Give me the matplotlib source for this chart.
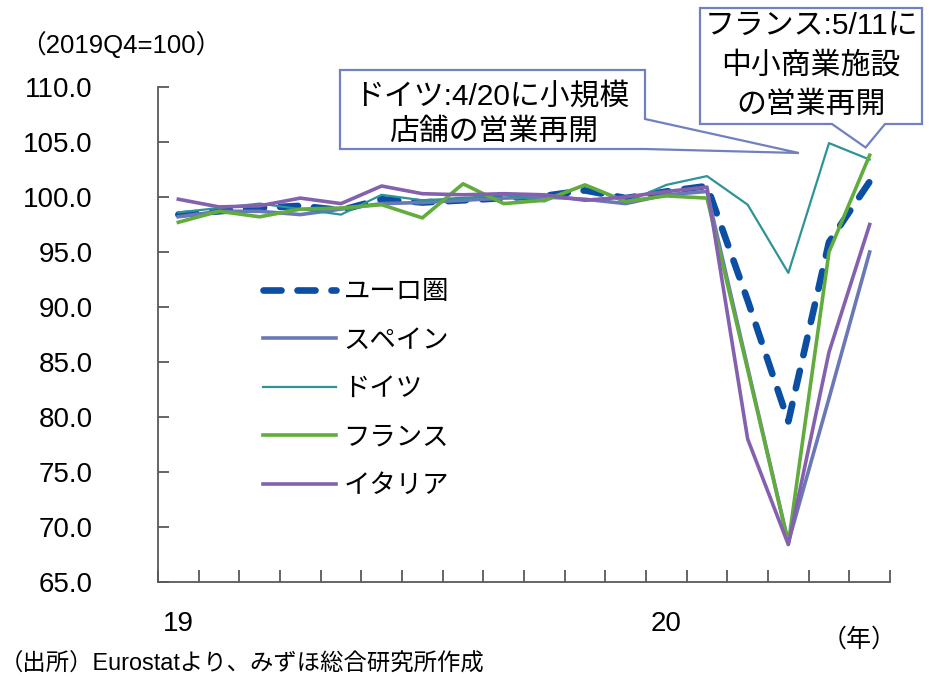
import numpy as np
import matplotlib
matplotlib.use("Agg")
import matplotlib.pyplot as plt
from matplotlib.patches import Polygon

plt.rcParams['font.family'] = ['Liberation Sans', 'Noto Sans CJK JP']

# Monthly retail sales volume index, 2019Q4 = 100 (Jan 2019 - Jun 2020)
months = ["2019-01", "2019-02", "2019-03", "2019-04", "2019-05", "2019-06",
          "2019-07", "2019-08", "2019-09", "2019-10", "2019-11", "2019-12",
          "2020-01", "2020-02", "2020-03", "2020-04", "2020-05", "2020-06"]
euro = [98.4, 98.7, 99.0, 99.2, 98.8, 99.8, 99.5, 99.7, 99.9, 100.1, 100.6, 99.9,
        100.5, 101.0, 90.6, 79.6, 95.9, 101.4]
spain = [98.2, 98.7, 98.7, 98.4, 98.9, 99.4, 99.5, 99.7, 99.9, 100.0, 99.8, 99.4,
         100.2, 100.5, 84.5, 68.6, 81.7, 95.0]
germany = [98.6, 99.0, 99.4, 98.9, 98.4, 100.2, 99.7, 99.9, 100.2, 99.6, 101.1, 99.5,
           101.1, 101.9, 99.3, 93.1, 104.9, 103.4]
france = [97.7, 98.7, 98.2, 98.9, 99.0, 99.3, 98.1, 101.2, 99.4, 99.7, 101.1, 99.6,
          100.1, 99.9, 84.3, 68.5, 95.0, 103.8]
italy = [99.8, 99.1, 99.2, 99.9, 99.4, 101.0, 100.3, 100.2, 100.3, 100.2, 99.7, 100.0,
         100.5, 100.9, 78.0, 68.4, 85.9, 97.5]

series_labels = ["ユーロ圏", "スペイン", "ドイツ", "フランス", "イタリア"]
year_labels = ["19", "20"]
year_positions = [0, 12]
yticks = np.arange(65, 110.1, 5)

W, H = 934, 679
fig = plt.figure(figsize=(W / 100, H / 100), dpi=100)

def px(x, y):
    """Pixel position (from top-left) to figure fraction."""
    return (x / W, 1 - y / H)

ax = fig.add_axes([158 / W, 1 - 582 / H, (890 - 158) / W, (582 - 87) / H])

x = np.arange(len(months))
ax.plot(x, euro, color="#0A4FA3", lw=4.8, linestyle=(0, (2.7, 2.4)),
        dash_capstyle="round", label=series_labels[0], zorder=2)
ax.plot(x, spain, color="#6B78B8", lw=2.6, label=series_labels[1], zorder=3)
ax.plot(x, germany, color="#2E9397", lw=1.6, label=series_labels[2], zorder=4)
ax.plot(x, france, color="#62AC3E", lw=2.6, label=series_labels[3], zorder=5)
ax.plot(x, italy, color="#8461AE", lw=2.6, label=series_labels[4], zorder=6)

ax.set_xlim(-0.5, len(months) - 0.5)
ax.set_ylim(65, 110)

for side in ("top", "right"):
    ax.spines[side].set_visible(False)
for side in ("left", "bottom"):
    ax.spines[side].set_color("#595959")
    ax.spines[side].set_linewidth(1.3)

ax.set_yticks(yticks)
ax.set_yticklabels([f"{v:.1f}" for v in yticks])
ax.tick_params(axis="y", direction="in", length=8, width=1.3, color="#595959",
               labelsize=20, pad=47)

ax.set_xticks(np.arange(-0.5, len(months), 1.0))
ax.set_xticklabels([])
ax.tick_params(axis="x", which="major", direction="in", length=9, width=1.3,
               color="#595959")
ax.set_xticks(year_positions, minor=True)
ax.set_xticklabels(year_labels, minor=True)
ax.tick_params(axis="x", which="minor", length=0, labelsize=20, pad=21)

leg = ax.legend(loc="upper left", bbox_to_anchor=px(263, 280),
                bbox_transform=fig.transFigure, frameon=False, fontsize=19,
                handlelength=2.75, handletextpad=0.3, labelspacing=0.93,
                borderpad=0, borderaxespad=0)

# Callout boxes
fig.canvas.draw()
to_fig = fig.transFigure.inverted()

def tip(xd, yd):
    return to_fig.transform(ax.transData.transform((xd, yd)))

edge = "#7180C0"
box1 = [px(340, 70), px(645, 70), px(645, 119), tip(15.26, 104.0),
        px(645, 149), px(340, 149)]
box2 = [px(700, 8), px(922, 8), px(922, 124), px(885, 124), tip(16.9, 104.5),
        px(832, 124), px(700, 124)]
for verts in (box1, box2):
    fig.patches.append(Polygon(verts, closed=True, facecolor="white",
                               edgecolor=edge, lw=1.6,
                               transform=fig.transFigure, zorder=10))

txt = dict(fontsize=21.5, ha="center", va="center", zorder=11)
fig.text(*px(492, 96), "ドイツ:4/20に小規模", **txt)
fig.text(*px(494, 132), "店舗の営業再開", **txt)
fig.text(*px(811, 26), "フランス:5/11に", **txt)
fig.text(*px(811, 66), "中小商業施設", **txt)
fig.text(*px(811, 105), "の営業再開", **txt)

fig.text(*px(20, 45), "（2019Q4=100）", fontsize=18.5, ha="left", va="center")
fig.text(*px(822, 640), "（年）", fontsize=18, ha="left", va="center")
fig.text(*px(0, 664), "（出所）Eurostatより、みずほ総合研究所作成", fontsize=16.8,
         ha="left", va="center")

fig.savefig("out.png", dpi=100)
